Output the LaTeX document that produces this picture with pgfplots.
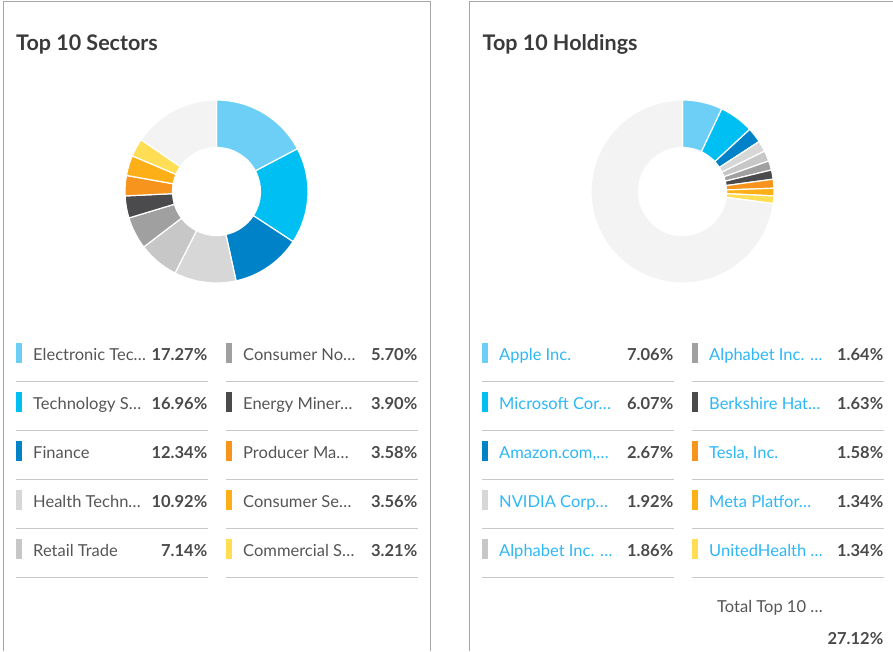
\documentclass[border=0pt]{standalone}
\usepackage{fontspec}
\setmainfont{Lato}
\usepackage{pgfplots}
\pgfplotsset{compat=1.18}
\usepackage{pgfplotstable}

\definecolor{s1}{HTML}{6DCFF6}
\definecolor{s2}{HTML}{00BFF3}
\definecolor{s3}{HTML}{0082C8}
\definecolor{s4}{HTML}{D7D7D7}
\definecolor{s5}{HTML}{C7C7C7}
\definecolor{s6}{HTML}{A0A0A0}
\definecolor{s7}{HTML}{4B4B4D}
\definecolor{s8}{HTML}{F7941D}
\definecolor{s9}{HTML}{FCAF17}
\definecolor{s10}{HTML}{FFDD55}
\definecolor{rest}{HTML}{F3F3F3}
\definecolor{titlec}{HTML}{3A3A3C}
\definecolor{textc}{HTML}{555555}
\definecolor{valc}{HTML}{4A4A4A}
\definecolor{linkc}{HTML}{2DB7F5}
\definecolor{sepc}{HTML}{C8C8C8}
\definecolor{borderc}{HTML}{A6A6A6}

% sector weights in percent, last row is the remainder
\pgfplotstableread{
name value color
{Electronic Tec…} 17.27 s1
{Technology S…} 16.96 s2
{Finance} 12.34 s3
{Health Techn…} 10.92 s4
{Retail Trade} 7.14 s5
{Consumer No…} 5.70 s6
{Energy Miner…} 3.90 s7
{Producer Ma…} 3.58 s8
{Consumer Se…} 3.56 s9
{Commercial S…} 3.21 s10
{Other} 15.42 rest
}\sectors

\pgfplotstableread{
name value color
{Apple Inc.} 7.06 s1
{Microsoft Cor…} 6.07 s2
{Amazon.com,…} 2.67 s3
{NVIDIA Corp…} 1.92 s4
{Alphabet Inc. …} 1.86 s5
{Alphabet Inc. …} 1.64 s6
{Berkshire Hat…} 1.63 s7
{Tesla, Inc.} 1.58 s8
{Meta Platfor…} 1.34 s9
{UnitedHealth …} 1.34 s10
{Other} 72.88 rest
}\holdings

\tikzset{
  ttl/.style={font=\fontsize{21.5}{25}\selectfont\bfseries, text=titlec, inner sep=0pt},
  lname/.style={font=\fontsize{16.5}{19}\selectfont, text=textc, inner sep=0pt},
  hname/.style={font=\fontsize{16.5}{19}\selectfont, text=linkc, inner sep=0pt},
  lval/.style={font=\fontsize{16.5}{19}\selectfont\bfseries, text=valc, inner sep=0pt},
}

\pgfplotsset{panel/.style={hide axis, scale only axis, width=893pt, height=651pt,
  xmin=0, xmax=893, ymin=0, ymax=651, y dir=reverse, clip=false,
  at={(0,0)}, anchor=south west}}

% donut: table, centre x, centre y (pixels from top left);
% angles are mirrored because the y axis runs downwards
\newcommand\donut[3]{%
  \pgfplotstablegetrowsof{#1}\pgfmathtruncatemacro\nrows{\pgfplotsretval-1}%
  \def\cum{0}%
  \pgfplotsforeachungrouped \i in {0,...,\nrows}{%
    \pgfplotstablegetelem{\i}{value}\of{#1}\let\sliceval\pgfplotsretval
    \pgfplotstablegetelem{\i}{color}\of{#1}\let\slicecol\pgfplotsretval
    \pgfmathsetmacro\aA{-90+3.6*\cum}%
    \pgfmathsetmacro\aB{-90+3.6*(\cum+\sliceval)}%
    \pgfmathsetmacro\cum{\cum+\sliceval}%
    \edef\temp{\noexpand\filldraw[fill=\slicecol, draw=white, line width=1.2pt]
      (axis cs:#2,#3) ++(\aA:91.5) arc[start angle=\aA, end angle=\aB, radius=91.5]
      -- ++(\aB:-47.5) arc[start angle=\aB, end angle=\aA, radius=44] -- cycle;}%
    \temp
  }}

% two-column legend: table, left x of first column, name style
\newcommand\legendrows[3]{%
  \pgfplotsforeachungrouped \i in {0,...,9}{%
    \pgfplotstablegetelem{\i}{name}\of{#1}\let\lname\pgfplotsretval
    \pgfplotstablegetelem{\i}{value}\of{#1}\let\lvalue\pgfplotsretval
    \pgfplotstablegetelem{\i}{color}\of{#1}\let\lcol\pgfplotsretval
    \pgfmathtruncatemacro\colno{\i/5}%
    \pgfmathsetmacro\xa{#2+210*\colno}%
    \pgfmathsetmacro\xb{\xa+6}%
    \pgfmathsetmacro\xt{\xa+17}%
    \pgfmathsetmacro\xv{\xa+191.5}%
    \pgfmathsetmacro\xe{\xa+192}%
    \pgfmathsetmacro\yc{353+49*(\i-5*\colno)}%
    \pgfmathsetmacro\ytop{\yc-10}%
    \pgfmathsetmacro\ybot{\yc+10}%
    \pgfmathsetmacro\ybase{\yc+7.5}%
    \pgfmathsetmacro\ysep{\yc+28.5}%
    \edef\temp{%
      \noexpand\fill[\lcol] (axis cs:\xa,\ytop) rectangle (axis cs:\xb,\ybot);
      \noexpand\node[#3, anchor=base west] at (axis cs:\xt,\ybase) {\lname};
      \noexpand\node[lval, anchor=base east] at (axis cs:\xv,\ybase) {\lvalue\noexpand\%};
      \noexpand\draw[sepc, line width=1pt] (axis cs:\xa,\ysep) -- (axis cs:\xe,\ysep);
    }%
    \temp
  }}

\begin{document}
\begin{tikzpicture}
\path[use as bounding box] (0,0) rectangle (893pt,651pt);
\begin{axis}[panel]
  \draw[borderc, line width=1pt] (axis cs:3,651) -- (axis cs:3,1.5) -- (axis cs:430.5,1.5) -- (axis cs:430.5,651);
  \node[ttl, anchor=base west] at (axis cs:16,50) {Top 10 Sectors};
  \donut{\sectors}{216.5}{191.5}
  \legendrows{\sectors}{16}{lname}
\end{axis}
\begin{axis}[panel]
  \draw[borderc, line width=1pt] (axis cs:469.7,651) -- (axis cs:469.7,1.5) -- (axis cs:893,1.5);
  \node[ttl, anchor=base west] at (axis cs:482.5,50) {Top 10 Holdings};
  \donut{\holdings}{682.5}{191.5}
  \legendrows{\holdings}{482}{hname}
  \node[lname, anchor=base west] at (axis cs:717,612.5) {Total Top 10 …};
  \node[lval, anchor=base east] at (axis cs:883.5,644) {27.12\%};
\end{axis}
\end{tikzpicture}
\end{document}
